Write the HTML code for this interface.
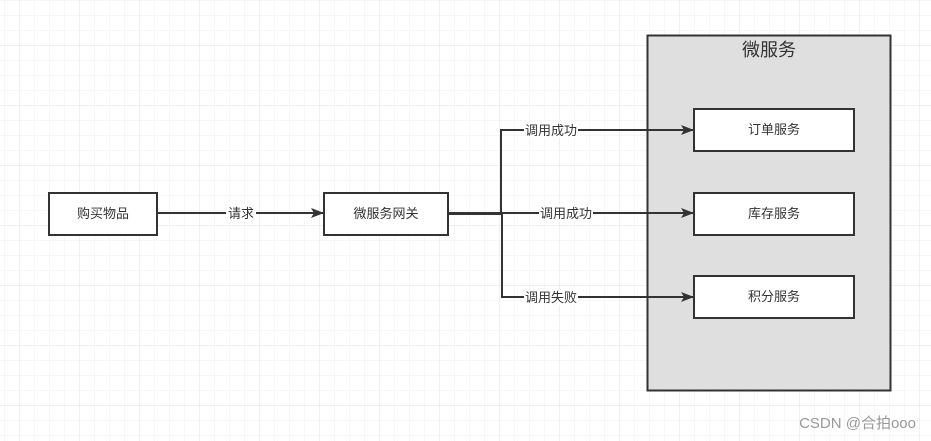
<!DOCTYPE html>
<html><head><meta charset="utf-8"><style>
html,body{margin:0;padding:0;}
body{width:931px;height:441px;overflow:hidden;background:#fff;}
svg{display:block;}
text{font-family:"Liberation Sans","Noto Sans CJK SC",sans-serif;}
</style></head><body>
<svg width="931" height="441" viewBox="0 0 931 441" xmlns="http://www.w3.org/2000/svg">
<defs>
<pattern id="g" x="4.5" y="0.5" width="15" height="15" patternUnits="userSpaceOnUse">
<path d="M0 0H15M0 0V15" stroke="#efefef" stroke-width="1" fill="none"/>
</pattern>
<pattern id="G" x="19.5" y="45.5" width="60" height="60" patternUnits="userSpaceOnUse">
<path d="M0 0H60M0 0V60" stroke="#e2e2e2" stroke-width="1" fill="none"/>
</pattern>
<marker id="a" markerWidth="13" markerHeight="10" refX="12" refY="5" orient="auto" markerUnits="userSpaceOnUse">
<path d="M0 0L13 5L0 10L3 5Z" fill="#333"/>
</marker>
</defs>
<rect width="931" height="441" fill="url(#g)"/>
<rect width="931" height="441" fill="url(#G)"/>
<rect x="647.5" y="35.5" width="243" height="355" fill="#dfdfdf" stroke="#333" stroke-width="2"/>
<text x="769" y="56" font-size="18" text-anchor="middle" fill="#333">微服务</text>
<g stroke="#333" stroke-width="2" fill="#fff">
<rect x="49" y="193" width="108" height="42"/>
<rect x="324" y="193" width="124" height="42"/>
<rect x="694" y="109" width="160" height="42"/>
<rect x="694" y="193" width="160" height="42"/>
<rect x="694" y="276" width="160" height="42"/>
</g>
<g font-size="13" text-anchor="middle" fill="#333">
<text x="103" y="218">购买物品</text>
<text x="386" y="218">微服务网关</text>
<text x="774" y="134">订单服务</text>
<text x="774" y="218">库存服务</text>
<text x="774" y="301">积分服务</text>
</g>
<g stroke="#333" stroke-width="2" fill="none">
<path d="M157 213H323" marker-end="url(#a)"/>
<path d="M448 213H501V130H693" marker-end="url(#a)"/>
<path d="M448 213H693" marker-end="url(#a)"/>
<path d="M448 214H502V297H693" marker-end="url(#a)"/>
</g>
<g font-size="13" text-anchor="middle" fill="#333">
<rect x="226" y="205" width="30" height="16" fill="#fff"/>
<text x="241" y="218">请求</text>
<rect x="524" y="122" width="54" height="16" fill="#fff"/>
<text x="551" y="135">调用成功</text>
<rect x="539" y="205" width="54" height="16" fill="#fff"/>
<text x="566" y="218">调用成功</text>
<rect x="524" y="289" width="54" height="16" fill="#fff"/>
<text x="551" y="302">调用失败</text>
</g>
<text x="916" y="428" font-size="15" text-anchor="end" fill="#999">CSDN @合拍ooo</text>
</svg>
</body></html>
